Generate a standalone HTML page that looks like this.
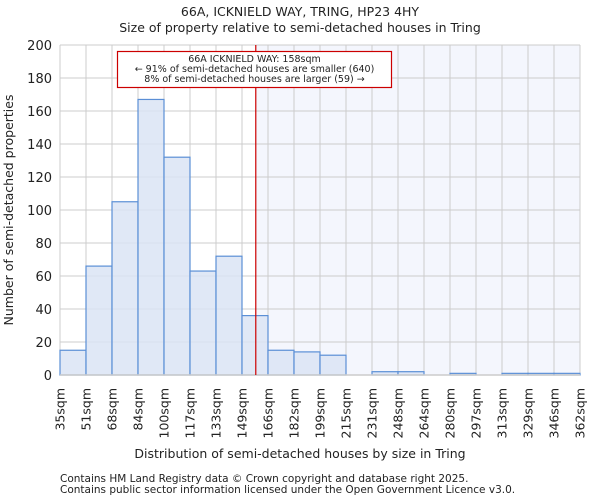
<!DOCTYPE html>
<html><head><meta charset="utf-8"><style>
body{margin:0;background:#fff;font-family:"DejaVu Sans","Liberation Sans",sans-serif}
svg text{font-family:"DejaVu Sans","Liberation Sans",sans-serif;fill:#222}
</style></head><body>
<svg id="c" width="600" height="500">
<text x="300" y="16" font-size="12.5" text-anchor="middle">66A, ICKNIELD WAY, TRING, HP23 4HY</text>
<text x="300" y="32" font-size="12.5" text-anchor="middle">Size of property relative to semi-detached houses in Tring</text>
<g id="plot"></g>
<text x="300" y="458" font-size="12.5" text-anchor="middle">Distribution of semi-detached houses by size in Tring</text>
<text transform="translate(13,210) rotate(-90)" font-size="12.5" text-anchor="middle">Number of semi-detached properties</text>
<text x="60" y="482" font-size="10.5">Contains HM Land Registry data © Crown copyright and database right 2025.</text>
<text x="60" y="493" font-size="10.5">Contains public sector information licensed under the Open Government Licence v3.0.</text>
</svg>
<script>
const categories=["35sqm","51sqm","68sqm","84sqm","100sqm","117sqm","133sqm","149sqm","166sqm","182sqm","199sqm","215sqm","231sqm","248sqm","264sqm","280sqm","297sqm","313sqm","329sqm","346sqm","362sqm"];
const counts=[15,66,105,167,132,63,72,36,15,14,12,0,2,2,0,1,0,1,1,1];
const yTicks=[0,20,40,60,80,100,120,140,160,180,200];
const propertyBinPos=8.53;
const L=60,R=580,T=45,B=375,ymax=200;
const n=counts.length,bw=(R-L)/n;
const xs=i=>L+i*bw, ys=v=>B-(v/ymax)*(B-T);
const NS="http://www.w3.org/2000/svg",g=document.getElementById('plot');
function mk(t,a){const e=document.createElementNS(NS,t);for(const k in a)e.setAttribute(k,a[k]);g.appendChild(e);return e;}
const mx=xs(propertyBinPos-1);
let e=mk('rect',{x:mx,y:T,width:R-mx,height:B-T,fill:'#f4f6fd'});


for(let i=0;i<=n;i++){e=mk('line',{x1:xs(i),x2:xs(i),y1:T,y2:B,stroke:'#cccccc','stroke-width':1});

}
yTicks.forEach(v=>{e=mk('line',{x1:L,x2:R,y1:ys(v),y2:ys(v),stroke:'#cccccc','stroke-width':1});


e=mk('text',{x:L-8,y:ys(v)+5,'font-size':13,'text-anchor':'end'});e.textContent=v;

});
counts.forEach((v,i)=>{if(v<=0)return;e=mk('rect',{x:xs(i),y:ys(v),width:bw,height:B-ys(v),fill:'#dae4f4',stroke:'#5b8fd6','stroke-width':1.2,'fill-opacity':0.85});

});
categories.forEach((c,i)=>{e=mk('text',{transform:`translate(${xs(i)+4.5},388) rotate(-90)`,'font-size':12.5,'text-anchor':'end'});e.textContent=c;

});
e=mk('line',{x1:L,x2:R,y1:B,y2:B,stroke:'#cccccc','stroke-width':1.5});


e=mk('line',{x1:mx,x2:mx,y1:T,y2:B,stroke:'#cc0000','stroke-width':1.2});


e=mk('rect',{x:117.5,y:51.5,width:274,height:36,fill:'#fff',stroke:'#cc0000','stroke-width':1.2});


["66A ICKNIELD WAY: 158sqm","← 91% of semi-detached houses are smaller (640)","8% of semi-detached houses are larger (59) →"].forEach((t,k)=>{
e=mk('text',{x:254.5,y:62+k*10,'font-size':9.5,'text-anchor':'middle'});e.textContent=t;

});
</script>
</body></html>
